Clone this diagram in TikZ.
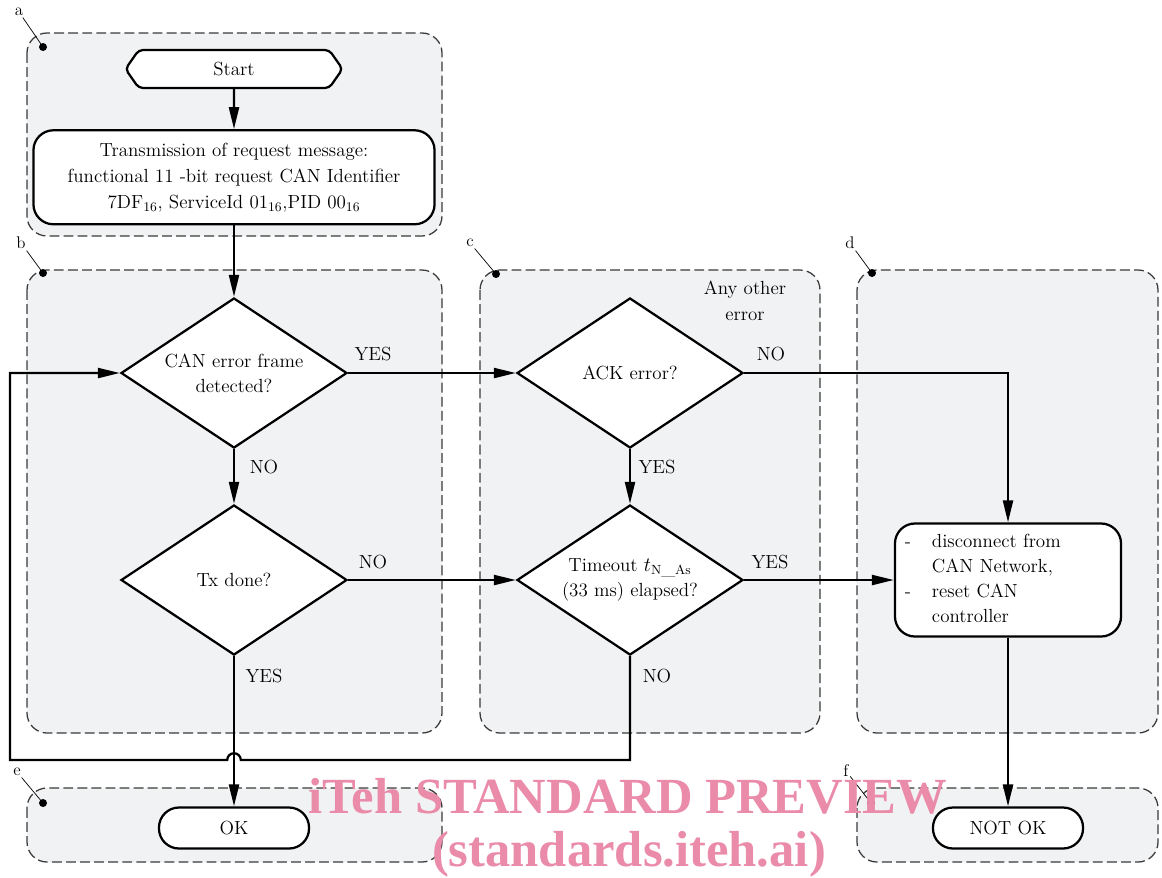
\documentclass[tikz,border=0pt]{standalone}
\usepackage{fontspec}
\newfontfamily\wmfont{Liberation Serif}
\usepackage{tikz}
\usetikzlibrary{shapes.geometric, shapes.symbols, arrows.meta, positioning, backgrounds, calc}
\definecolor{zonebg}{HTML}{F1F2F4}
\definecolor{zoneline}{HTML}{3A3A3A}
\definecolor{wmpink}{HTML}{EA8BA9}

\begin{document}
\begin{tikzpicture}[
    x=0.025cm, y=-0.025cm,
    every node/.style={font=\fontsize{13.5}{18}\selectfont},
    startbox/.style={signal, signal to=west and east, signal pointer angle=110,
        draw, fill=white, line width=1.6pt, rounded corners=3pt,
        minimum width=5.425cm, minimum height=0.95cm, inner sep=0pt},
    procbox/.style={rectangle, draw, fill=white, line width=1.6pt,
        rounded corners=0.5cm, minimum width=10.025cm, minimum height=2.35cm,
        align=center, font=\fontsize{13.5}{18.4}\selectfont},
    decision/.style={diamond, aspect=1.5, draw, fill=white, line width=1.6pt,
        minimum width=5.65cm, minimum height=3.75cm, inner sep=0pt, align=center},
    endbox/.style={rectangle, draw, fill=white, line width=1.6pt,
        rounded corners=0.5cm, minimum width=3.75cm, minimum height=1.025cm},
    zone/.style={draw=zoneline, fill=zonebg, line width=0.9pt,
        dash pattern=on 7pt off 3pt, rounded corners=0.5cm},
    tag/.style={font=\fontsize{12}{14}\selectfont, inner sep=1pt},
    lead/.style={line width=0.5pt},
    arr/.style={-{Triangle[length=0.55cm, width=0.25cm]}, line width=1.6pt},
    lbl/.style={inner sep=0pt},
    wm/.style={font=\wmfont\bfseries\fontsize{36}{40}\selectfont, text=wmpink,
        inner sep=0pt, anchor=base},
    node distance=1cm
]
\useasboundingbox (0,0) rectangle (1162,877);

% boxes
\node[startbox] (start) at (234,69) {Start};
\node[procbox, below=1cm of start] (trans) {Transmission of request message:\\
    functional 11 -bit request CAN Identifier\\
    7DF\textsubscript{16}, ServiceId 01\textsubscript{16},PID 00\textsubscript{16}};
\node[decision] (canerr) at (234,373) {CAN error frame\\detected?};
\node[decision] (txdone) at (234,580) {Tx done?};
\node[endbox] (ok) at (234,828) {OK};
\node[decision] (ackerr) at (630,373) {ACK error?};
\node[decision] (timeout) at (630,580) {Timeout $t_{\mathrm{N\_As}}$\\(33 ms) elapsed?};
\node[procbox, minimum width=0pt, minimum height=2.825cm,
    text width=5.15cm, inner xsep=0.25cm, align=left, font=\fontsize{13.5}{17.7}\selectfont] (reset)
    at (1008,580) {\begin{tabular}{@{}p{0.675cm}@{}l@{}}
    - & disconnect from\\ & CAN Network,\\ - & reset CAN\\ & controller
    \end{tabular}};
\node[endbox] (notok) at (1008,828) {NOT OK};

% zones
\begin{scope}[on background layer]
\draw[zone] (27,33) rectangle (442,236);
\draw[zone] (27,270) rectangle (442,733);
\draw[zone] (480,270) rectangle (820,733);
\draw[zone] (857,270) rectangle (1158,733);
\draw[zone] (27,788) rectangle (442,862);
\draw[zone] (857,788) rectangle (1158,862);
\end{scope}

% zone tags
\node[tag] (taga) at (19,12) {a}; \coordinate (dota) at (43,47);
\node[tag] (tagb) at (21,243) {b}; \coordinate (dotb) at (43,273);
\node[tag] (tagc) at (470,243) {c}; \coordinate (dotc) at (496,274);
\node[tag] (tagd) at (850,243) {d}; \coordinate (dotd) at (872,273);
\node[tag] (tage) at (17,772) {e}; \coordinate (dote) at (43,803);
\node[tag] (tagf) at (846,771) {f}; \coordinate (dotf) at (871,803);
\draw[lead] (taga) -- (dota); \fill (dota) circle (0.1cm);
\draw[lead] (tagb) -- (dotb); \fill (dotb) circle (0.1cm);
\draw[lead] (tagc) -- (dotc); \fill (dotc) circle (0.1cm);
\draw[lead] (tagd) -- (dotd); \fill (dotd) circle (0.1cm);
\draw[lead] (tage) -- (dote); \fill (dote) circle (0.1cm);
\draw[lead] (tagf) -- (dotf); \fill (dotf) circle (0.1cm);

% labels
\node[lbl] (other) at (745,301) [align=center, font=\fontsize{13.5}{18.4}\selectfont] {Any other\\error};
\node[lbl] (yescan) at (373,354) {YES};
\node[lbl] (nocan) at (264,467) {NO};
\node[lbl] (notx) at (373,562) {NO};
\node[lbl] (yestx) at (264,676) {YES};
\node[lbl] (noack) at (771,354) {NO};
\node[lbl] (yesack) at (657,467) {YES};
\node[lbl] (yestmo) at (770,562) {YES};
\node[lbl] (notmo) at (657,676) {NO};

% connectors
\draw[arr] (start) -- (trans);
\draw[arr] (trans) -- (canerr);
\draw[arr] (canerr) -- (txdone);
\draw[arr] (txdone) -- (ok);
\draw[arr] (canerr) -- (ackerr);
\draw[arr] (ackerr) -- (timeout);
\draw[arr] (txdone) -- (timeout);
\draw[arr] (timeout) -- (reset);
\draw[arr] (ackerr.east) -| (reset.north);
\draw[arr] (reset) -- (notok);
\coordinate (loopc) at (10,760);
\draw[arr] (timeout.south) -- (timeout.south |- loopc)
    -- ($(txdone.south |- loopc)+(0.17cm,0)$) arc[start angle=0, end angle=180, radius=0.17cm]
    -- (loopc) |- (canerr.west);

% watermark
\node[wm] (wmtop) at (628,813) {iTeh STANDARD PREVIEW};
\node[wm] (wmbot) at (629,866) {(standards.iteh.ai)};
\end{tikzpicture}
\end{document}
